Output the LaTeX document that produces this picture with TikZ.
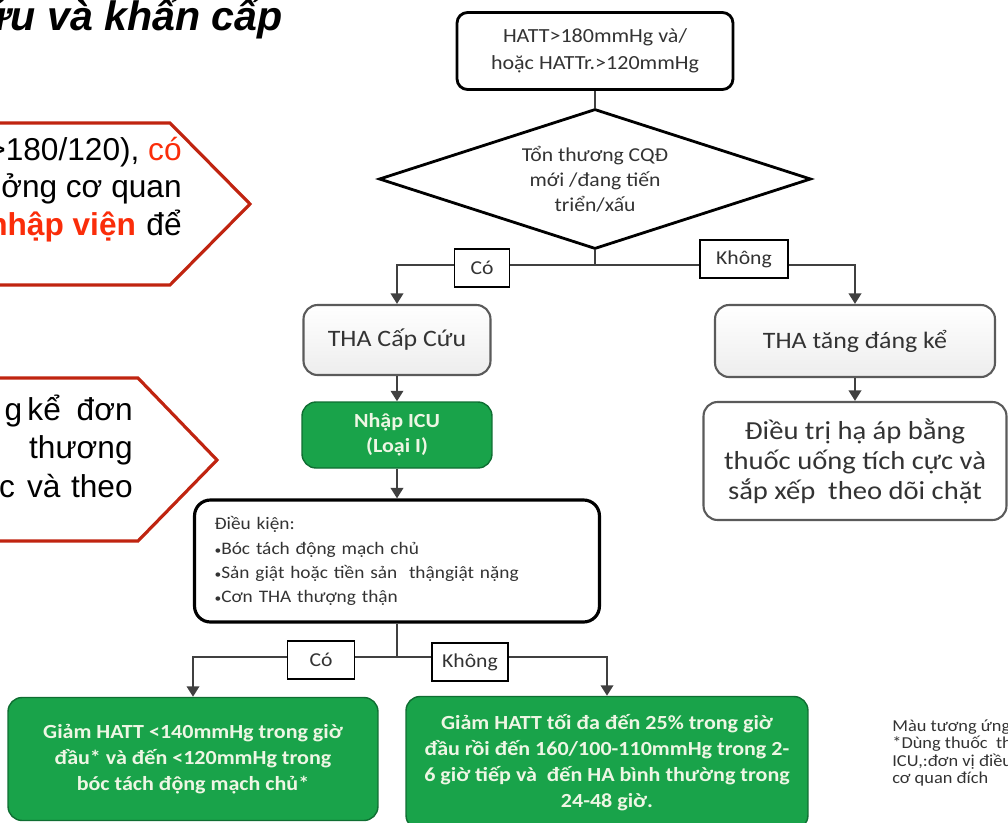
\documentclass[tikz,border=0pt]{standalone}
\usepackage{fontspec}
\setmainfont{Carlito}[FakeStretch=1.1]
\newfontfamily\arialfont{Liberation Sans}
\usetikzlibrary{arrows.meta,shapes.geometric}

\definecolor{linegray}{HTML}{404040}
\definecolor{boxgray}{HTML}{5A5A5A}
\definecolor{txtgray}{HTML}{333333}
\definecolor{icugreen}{RGB}{25,163,74}
\definecolor{icuedge}{RGB}{15,110,50}
\definecolor{icutext}{RGB}{238,246,228}
\definecolor{calloutred}{RGB}{192,36,16}
\definecolor{hotred}{RGB}{250,45,10}

\newcommand{\setfs}[2]{\fontsize{#1}{#2}\selectfont}
\newcommand{\smallbullet}{{\fontsize{7pt}{7pt}\selectfont•}}

\tikzset{
  flow/.style={line width=1.6pt, draw=linegray, -{Triangle[width=7pt,length=6pt]}},
  plain/.style={line width=1.6pt, draw=linegray},
  topbox/.style={draw=black, line width=1.6pt, rounded corners=6pt, fill=white,
    align=center, inner sep=0pt, text=txtgray, font=\setfs{11.4pt}{15.4pt}},
  decision/.style={diamond, aspect=3.1, draw=black, line width=1.6pt, fill=white, inner sep=0pt,
    minimum width=8.64cm, minimum height=2.8cm, align=center, text=txtgray,
    font=\setfs{11.2pt}{14.2pt}},
  yesno/.style={draw=black, line width=0.9pt, fill=white, inner sep=0pt,
    minimum height=0.76cm, text=txtgray, font=\setfs{11.2pt}{13pt}},
  graybox/.style={draw=boxgray, line width=1.2pt, rounded corners=8pt,
    top color=white, bottom color=gray!14, inner sep=0pt, align=center, text=txtgray},
  greenbox/.style={draw=icuedge, line width=0.8pt, rounded corners=8pt, fill=icugreen,
    inner sep=0pt, align=center, text=icutext, font=\bfseries\setfs{11.4pt}{14.8pt}},
  callout text/.style={anchor=base east, inner sep=0pt,
    font=\arialfont\setfs{18pt}{21pt}}
}

\begin{document}
\begin{tikzpicture}[x=0.02cm, y=-0.02cm]

\useasboundingbox (0,0) rectangle (1008,822);

\node (title) at (283,30) [anchor=base east, inner sep=0pt,
  font=\arialfont\bfseries\itshape\setfs{23.4pt}{26pt}] {cứu và khẩn cấp};

\draw [calloutred, line width=1.8pt] (-10,123) -- (170,123) -- (250,204) -- (170,285) -- (-10,285);
\draw [calloutred, line width=1.8pt] (-10,378) -- (138,378) -- (217,460) -- (138,541) -- (-10,541);

\node (cla) at (182,160) [callout text] {>180/120), \textcolor{hotred}{có}};
\node (clb) at (182,197) [callout text] {ởng\hspace{5pt}cơ\hspace{5pt}quan};
\node (clc) at (182,235) [callout text] {\textcolor{hotred}{\bfseries nhập viện}\hspace{6pt}để};
\node (cld) at (133,420) [callout text] {g\hspace{3pt}kể\hspace{9pt}đơn};
\node (cle) at (133,458) [callout text] {thương};
\node (clf) at (133,497) [callout text] {c\hspace{7pt}và\hspace{6pt}theo};

\node (hatt) at (595,51) [topbox, minimum width=5.52cm, minimum height=1.54cm]
  {HATT>180mmHg và/\\hoặc HATTr.>120mmHg};
\node (tonthuong) at (595,179) [decision] {Tổn thương CQĐ\\mới /đang tiến\\triển/xấu};

\node (capcuu) at (397,340) [graybox, minimum width=3.74cm, minimum height=1.4cm,
  font=\setfs{13.4pt}{16pt}] {THA Cấp Cứu};
\node (icu) at (397,435) [greenbox, minimum width=3.8cm, minimum height=1.32cm,
  font=\bfseries\setfs{11.4pt}{14.2pt}] {Nhập ICU\\(Loại I)};
\node (dieukien) at (397,561) [draw=black, line width=1.8pt, rounded corners=9pt, fill=white,
  text width=7.3cm, inner xsep=0.4cm, inner ysep=0pt, minimum height=2.44cm, align=left,
  text=txtgray, font=\setfs{10pt}{13.7pt}]
  {Điều kiện:\\\smallbullet Bóc tách động mạch chủ\\\smallbullet Sản giật hoặc tiền sản\ \ thậngiật nặng\\\smallbullet Cơn THA thượng thận};

\node (tangdk) at (855,341) [graybox, minimum width=5.6cm, minimum height=1.44cm,
  font=\setfs{13.4pt}{16pt}] {THA tăng đáng kể};
\node (dieutri) at (855,461) [draw=boxgray, line width=1.2pt, rounded corners=8pt, fill=white,
  minimum width=6.06cm, minimum height=2.36cm, inner sep=0pt, align=center, text=txtgray,
  font=\setfs{14.8pt}{17pt}] {Điều trị hạ áp bằng\\thuốc uống tích cực và\\sắp xếp\ \ theo dõi chặt};

\node (giam1) at (193,759) [greenbox, minimum width=7.4cm, minimum height=2.46cm]
  {Giảm HATT <140mmHg trong giờ\\đầu* và đến <120mmHg trong\\bóc tách động mạch chủ*};
\node (giam2) at (607,763) [greenbox, minimum width=8.04cm, minimum height=2.66cm]
  {Giảm HATT tối đa đến 25\% trong giờ\\đầu rồi đến 160/100-110mmHg trong 2-\\6 giờ tiếp và\ \ đến HA bình thường trong\\24-48 giờ.};

\node (ghichu) at (892,719) [anchor=north west, inner sep=0pt, align=left, text=txtgray,
  font=\setfs{9.5pt}{10pt}] {Màu tương ứng\\*Dùng thuốc\ \ th\\ICU,:đơn vị điều\\cơ quan đích};

\coordinate (split1) at (595,265);
\coordinate (split2) at (397,657);

\draw [plain] (hatt.south) -- (tonthuong.north);
\draw [plain] (tonthuong.south) -- (split1);
\draw [flow] (split1) -| (capcuu.north);
\draw [flow] (split1) -| (tangdk.north);
\draw [flow] (capcuu.south) -- (icu.north);
\draw [flow] (icu.south) -- (dieukien.north);
\draw [flow] (tangdk.south) -- (dieutri.north);
\draw [plain] (dieukien.south) -- (split2);
\draw [flow] (split2) -| (giam1.north);
\draw [flow] (split2) -| (giam2.north);

\node (co1) at (482,268) [yesno, minimum width=1.1cm] {Có};
\node (khong1) at (744,259) [yesno, minimum width=1.76cm] {Không};
\node (co2) at (321,660) [yesno, minimum width=1.34cm] {Có};
\node (khong2) at (470,662) [yesno, minimum width=1.52cm] {Không};

\end{tikzpicture}
\end{document}
